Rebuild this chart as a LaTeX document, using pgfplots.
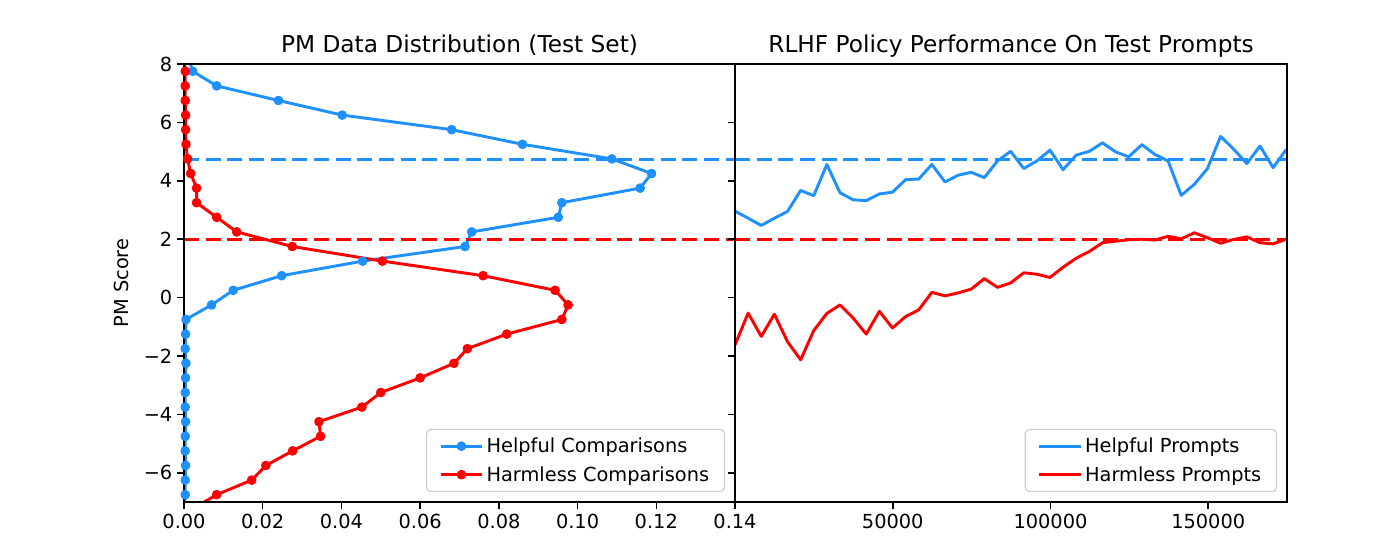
\documentclass[border=0pt]{standalone}
\usepackage{fontspec}
\setmainfont{DejaVu Sans}
\usepackage{pgfplots}
\usepackage{pgfplotstable}
\pgfplotsset{compat=1.18}
\definecolor{hblue}{HTML}{1E90FF}
\definecolor{hred}{HTML}{FF0000}

\pgfplotstableread{
p s
0.0011 8.25
0.0022 7.75
0.0083 7.25
0.0240 6.75
0.0402 6.25
0.0680 5.75
0.0860 5.25
0.1087 4.75
0.1188 4.25
0.1159 3.75
0.0960 3.25
0.0951 2.75
0.0731 2.25
0.0714 1.75
0.0454 1.25
0.0248 0.75
0.0125 0.25
0.0070 -0.25
0.0005 -0.75
0.0004 -1.25
0.0003 -1.75
0.0005 -2.25
0.0004 -2.75
0.0003 -3.25
0.0003 -3.75
0.0004 -4.25
0.0003 -4.75
0.0003 -5.25
0.0004 -5.75
0.0003 -6.25
0.0003 -6.75
0.0002 -7.25
}\helpfulpm

\pgfplotstableread{
p s
0.0002 8.25
0.0003 7.75
0.0003 7.25
0.0003 6.75
0.0004 6.25
0.0004 5.75
0.0005 5.25
0.0009 4.75
0.0017 4.25
0.0032 3.75
0.0032 3.25
0.0083 2.75
0.0134 2.25
0.0275 1.75
0.0504 1.25
0.0760 0.75
0.0943 0.25
0.0976 -0.25
0.0960 -0.75
0.0820 -1.25
0.0720 -1.75
0.0686 -2.25
0.0600 -2.75
0.0500 -3.25
0.0452 -3.75
0.0343 -4.25
0.0347 -4.75
0.0276 -5.25
0.0208 -5.75
0.0172 -6.25
0.0083 -6.75
0.0020 -7.25
}\harmlesspm

\pgfplotstableread{
x h r
0 2.96 -1.62
4160 2.72 -0.53
8320 2.47 -1.33
12480 2.72 -0.57
16640 2.95 -1.51
20800 3.67 -2.13
24960 3.49 -1.13
29120 4.56 -0.54
33280 3.59 -0.25
37440 3.35 -0.70
41600 3.32 -1.25
45760 3.55 -0.47
49920 3.61 -1.04
54080 4.04 -0.65
58240 4.06 -0.42
62400 4.56 0.18
66560 3.96 0.06
70720 4.19 0.16
74880 4.29 0.29
79040 4.11 0.65
83200 4.68 0.35
87360 5.01 0.50
91520 4.42 0.85
95680 4.68 0.80
99840 5.05 0.69
104000 4.38 1.04
108160 4.88 1.35
112320 5.01 1.58
116480 5.30 1.88
120640 4.99 1.93
124800 4.82 1.98
128960 5.24 2.00
133120 4.90 1.97
137280 4.68 2.10
141440 3.50 2.01
145600 3.88 2.22
149760 4.42 2.05
153920 5.52 1.86
158080 5.08 1.99
162240 4.59 2.08
166400 5.19 1.88
170560 4.45 1.84
174720 5.07 2.00
}\policy

\pgfplotsset{
  mpl/.style={
    scale only axis, width=396.72bp, height=315.36bp,
    axis line style={line width=1.12bp},
    every tick/.style={line width=1.12bp, black},
    major tick length=4.9bp,
    tick align=outside,
    xtick pos=left, ytick pos=left,
    scaled ticks=false,
    ticklabel style={font=\fontsize{14}{16.8}\selectfont},
    /pgf/number format/assume math mode=true,
    title style={font=\fontsize{16.8}{20}\selectfont, anchor=base, yshift=2.6bp},
    label style={font=\fontsize{14}{16.8}\selectfont},
    ymin=-7, ymax=8,
    ytick={-6,-4,-2,0,2,4,6,8},
    clip=true, axis on top,
    legend cell align=left,
    legend image code/.code={\draw[mark repeat=2,mark phase=2] plot coordinates {(0bp,0bp) (15bp,0bp) (30bp,0bp)};},
    legend style={at={(rel axis cs:1,0)}, anchor=south east, xshift=-7.2bp, yshift=7.2bp,
      draw=black!20, line width=0.8bp, rounded corners=3bp, fill=white, fill opacity=0.8,
      text opacity=1, draw opacity=1, font=\fontsize{14}{16.8}\selectfont,
      inner xsep=9bp, inner ysep=4bp, row sep=4.5bp},
  },
  hb/.style={color=hblue, line width=2.1bp, line join=round},
  hr/.style={color=hred, line width=2.1bp, line join=round},
  dsh/.style={line width=2.1bp, dash pattern=on 10.9bp off 4.7bp},
}

\begin{document}
\begin{tikzpicture}
\path[use as bounding box] (0,0) rectangle (1008bp,388.8bp);

\begin{axis}[mpl, at={(132.48bp,27.36bp)}, anchor=south west,
  xmin=0, xmax=0.14,
  xtick={0,0.02,0.04,0.06,0.08,0.10,0.12,0.14},
  xticklabels={0.00,0.02,0.04,0.06,0.08,0.10,0.12,0.14},
  yticklabels={−6,−4,−2,0,2,4,6,8},
  title={PM Data Distribution (Test Set)},
  ylabel={PM Score},
  ylabel style={at={(axis description cs:-0.1127,0.5)}, anchor=center},
]
\addplot[hb, mark=*, mark size=2.4bp, mark options={solid}] table[x=p,y=s] {\helpfulpm};
\addlegendentry{Helpful Comparisons}
\addplot[hr, mark=*, mark size=2.4bp, mark options={solid}] table[x=p,y=s] {\harmlesspm};
\addlegendentry{Harmless Comparisons}
\addplot[hblue, dsh, forget plot] coordinates {(0,4.72) (0.14,4.72)};
\addplot[hred, dsh, forget plot] coordinates {(0,2.0) (0.14,2.0)};
\end{axis}

\begin{axis}[mpl, at={(529.2bp,27.36bp)}, anchor=south west,
  width=397.5bp,
  xmin=0, xmax=175000,
  xtick={50000,100000,150000},
  xticklabels={50000,100000,150000},
  yticklabels={,,,,,,,},
  title={RLHF Policy Performance On Test Prompts},
]
\addplot[hb] table[x=x,y=h] {\policy};
\addlegendentry{Helpful Prompts}
\addplot[hr] table[x=x,y=r] {\policy};
\addlegendentry{Harmless Prompts}
\addplot[hblue, dsh, forget plot] coordinates {(0,4.72) (175000,4.72)};
\addplot[hred, dsh, forget plot] coordinates {(0,2.0) (175000,2.0)};
\end{axis}
\end{tikzpicture}
\end{document}
